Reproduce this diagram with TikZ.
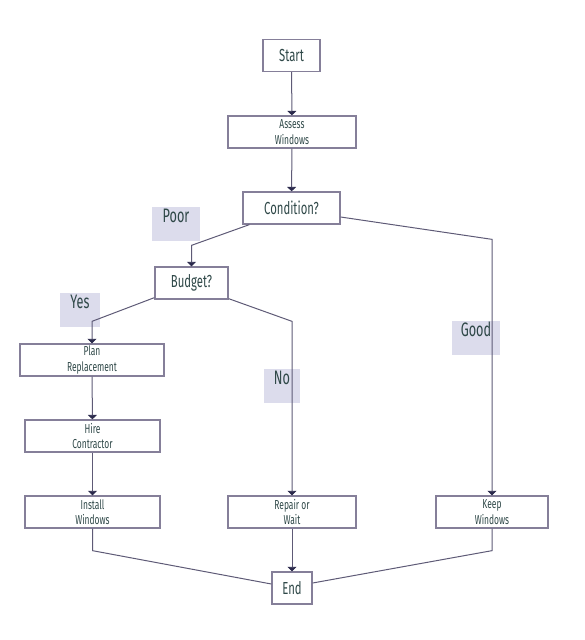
\documentclass[tikz,border=0pt]{standalone}
\usepackage{fontspec}
\setmainfont[FakeStretch=0.65]{Fira Sans}
\usepackage{xcolor}
\usetikzlibrary{arrows.meta}

\definecolor{boxline}{HTML}{857F99}
\definecolor{edgeline}{HTML}{5E5A76}
\definecolor{tipcol}{HTML}{2B2A4C}
\definecolor{labelfill}{HTML}{DCDCEC}
\definecolor{txtcol}{HTML}{2F4848}

\begin{document}
\begin{tikzpicture}[x=1pt, y=-1pt,
        every node/.style={text=txtcol, align=center},
        box/.style={draw=boxline, line width=1.3pt, minimum height=32pt, inner sep=1pt},
        bigbox/.style={box, font=\fontsize{17.4}{20}\selectfont},
        twobox/.style={box, font=\fontsize{13}{15.5}\selectfont},
        choice/.style={fill=labelfill, inner sep=0pt, minimum width=48pt,
            text height=15pt, text depth=19pt, font=\fontsize{19.5}{22}\selectfont},
        flow/.style={draw=edgeline, line width=1pt,
            -{Triangle[length=4.5pt, width=9pt, line width=0.8pt, color=tipcol, fill=tipcol]}},
        endline/.style={draw=edgeline, line width=1pt}]
    \useasboundingbox (0,0) rectangle (584,640);

    % edge labels, under the lines
    \node[choice] (poor) at (176,224) {Poor};
    \node[choice, minimum width=40pt] (yes) at (80,310) {Yes};
    \node[choice, minimum width=36pt] (no) at (282,386) {No};
    \node[choice] (good) at (476,338) {Good};

    % steps
    \node[bigbox, minimum width=57pt] (start) at (291.5,55.5) {Start};
    \node[twobox, minimum width=128pt] (assess) at (292,132) {Assess\\Windows};
    \node[bigbox, minimum width=97pt] (cond) at (291.5,208) {Condition?};
    \node[bigbox, minimum width=73pt] (budget) at (191.5,283) {Budget?};
    \node[twobox, minimum width=144pt] (plan) at (92,360) {Plan\\Replacement};
    \node[twobox, minimum width=135pt] (hire) at (92.5,436) {Hire\\Contractor};
    \node[twobox, minimum width=135pt] (install) at (92.5,512) {Install\\Windows};
    \node[twobox, minimum width=128pt] (repair) at (292,512) {Repair or\\Wait};
    \node[twobox, minimum width=112pt] (keep) at (492,512) {Keep\\Windows};
    \node[bigbox, minimum width=40pt] (end) at (292,588) {End};

    % connectors
    \draw[flow] (start) -- (assess);
    \draw[flow] (assess) -- (cond);
    \draw[flow] ([xshift=7pt]cond.south west) -- ([yshift=21pt]budget.north) -- (budget.north);
    \draw[flow] ([yshift=-9pt]cond.east) -- ([yshift=256pt]keep.north) -- (keep.north);
    \draw[flow] ([yshift=2pt]budget.south west) -- ([yshift=22pt]plan.north) -- (plan.north);
    \draw[flow] ([yshift=1pt]budget.south east) -- ([yshift=174pt]repair.north) -- (repair.north);
    \draw[flow] (plan) -- (hire);
    \draw[flow] (hire) -- (install);
    \draw[flow] (repair) -- (end);
    \draw[endline] (install.south) -- ([yshift=-22pt]install.south) -- ([yshift=4pt]end.west);
    \draw[endline] (keep.south) -- ([yshift=-22pt]keep.south) -- ([yshift=5pt]end.east);
\end{tikzpicture}
\end{document}
